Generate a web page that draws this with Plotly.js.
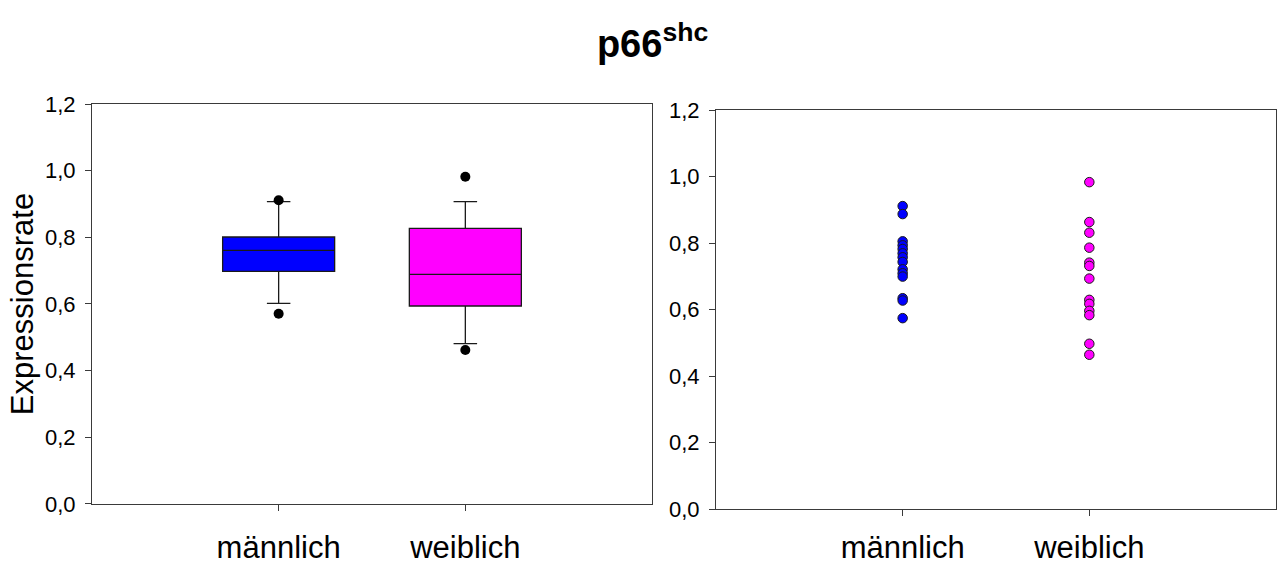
<!DOCTYPE html>
<html>
<head>
<meta charset="utf-8">
<script src="https://cdn.plot.ly/plotly-3.0.1.min.js"></script>
<style>
  html, body { margin: 0; padding: 0; background: #fff; }
  #chart { width: 1277px; height: 565px; }
</style>
</head>
<body>
<div id="chart"></div>
<script>
// Groups
const categories = ['männlich', 'weiblich'];

// Box statistics per group (10th / 25th / 50th / 75th / 90th percentile)
const boxLower  = [0.602, 0.481];
const boxQ1     = [0.698, 0.594];
const boxMedian = [0.761, 0.689];
const boxQ3     = [0.801, 0.827];
const boxUpper  = [0.907, 0.907];

// Values outside the whiskers
const outlierGroup  = ['männlich', 'männlich', 'weiblich', 'weiblich'];
const outlierValues = [0.911, 0.571, 0.982, 0.462];

// Individual expression rates
const maleValues = [0.911, 0.887, 0.805, 0.793, 0.782, 0.769, 0.757, 0.743,
                    0.721, 0.709, 0.699, 0.634, 0.627, 0.574];
const femaleValues = [0.983, 0.863, 0.831, 0.786, 0.741, 0.731, 0.693,
                      0.629, 0.617, 0.596, 0.583, 0.497, 0.464];

const yTicks = [0, 0.2, 0.4, 0.6, 0.8, 1.0, 1.2];

const groupColors = ['#0000FF', '#FF00FF'];
const FONT = 'Liberation Sans, Arial, sans-serif';
const AXIS_LINE = '#3a3a3a';

const traces = [];

// Box plots, one trace per group so each gets its own fill
categories.forEach((cat, i) => {
  traces.push({
    type: 'box',
    x: [cat],
    q1: [boxQ1[i]],
    median: [boxMedian[i]],
    q3: [boxQ3[i]],
    lowerfence: [boxLower[i]],
    upperfence: [boxUpper[i]],
    width: 0.6,
    whiskerwidth: 0.21,
    boxpoints: false,
    fillcolor: groupColors[i],
    line: { color: '#1a1a1a', width: 1.3 },
    xaxis: 'x', yaxis: 'y',
    hoverinfo: 'skip',
    showlegend: false
  });
});

// Outlying points on the box plot
traces.push({
  type: 'scatter',
  mode: 'markers',
  x: outlierGroup,
  y: outlierValues,
  marker: { color: '#000', size: 10 },
  xaxis: 'x', yaxis: 'y',
  showlegend: false,
  hoverinfo: 'skip'
});

// Individual points per group
const pointSets = [maleValues, femaleValues];
pointSets.forEach((vals, i) => {
  traces.push({
    type: 'scatter',
    mode: 'markers',
    x: vals.map(() => categories[i]),
    y: vals,
    marker: {
      color: groupColors[i],
      size: 9.5,
      line: { color: '#1a1a1a', width: 1 }
    },
    xaxis: 'x2', yaxis: 'y2',
    showlegend: false,
    hoverinfo: 'skip'
  });
});

const xCommon = {
  type: 'category',
  categoryorder: 'array',
  categoryarray: categories,
  range: [-1, 2],
  showgrid: false,
  zeroline: false,
  showline: true,
  mirror: true,
  linecolor: AXIS_LINE,
  linewidth: 1,
  ticks: 'outside',
  ticklen: 6,
  tickcolor: AXIS_LINE,
  tickfont: { family: FONT, size: 31, color: '#000' },
  fixedrange: true
};

const yCommon = {
  range: [0, 1.2],
  tickvals: yTicks,
  tickformat: '.1f',
  showgrid: false,
  zeroline: false,
  showline: true,
  mirror: true,
  linecolor: AXIS_LINE,
  linewidth: 1,
  ticks: 'outside',
  ticklen: 6,
  tickcolor: AXIS_LINE,
  tickfont: { family: FONT, size: 22, color: '#000' },
  ticklabelstandoff: 5,
  fixedrange: true
};

const layout = {
  width: 1277,
  height: 565,
  margin: { l: 0, r: 0, t: 0, b: 0 },
  paper_bgcolor: '#fff',
  plot_bgcolor: '#fff',
  separators: ',.',
  showlegend: false,
  title: {
    text: '<b>p66<sup>shc</sup></b>',
    font: { family: FONT, size: 38, color: '#000' },
    x: 0.511,
    xanchor: 'center',
    y: 0.922,
    yanchor: 'middle'
  },
  xaxis: Object.assign({}, xCommon, {
    domain: [0.0720, 0.5106], anchor: 'y', ticklabelstandoff: 10
  }),
  yaxis: Object.assign({}, yCommon, {
    domain: [0.1080, 0.8159],
    anchor: 'x',
    title: {
      text: 'Expressionsrate',
      font: { family: FONT, size: 31, color: '#000' },
      standoff: 2
    }
  }),
  xaxis2: Object.assign({}, xCommon, {
    domain: [0.5607, 0.9992], anchor: 'y2', ticklabelstandoff: 5
  }),
  yaxis2: Object.assign({}, yCommon, { domain: [0.0991, 0.8053], anchor: 'x2' })
};

Plotly.newPlot('chart', traces, layout, { displayModeBar: false, staticPlot: true });
</script>
</body>
</html>
